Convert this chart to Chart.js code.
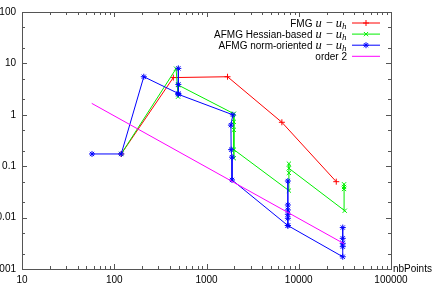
<!DOCTYPE html>
<html>
<head>
<meta charset="utf-8">
<script src="https://cdn.jsdelivr.net/npm/chart.js@4.4.1/dist/chart.umd.min.js"></script>
<style>
  html, body { margin: 0; padding: 0; background: #fff; }
  canvas { display: block; }
</style>
</head>
<body>
<canvas id="chart" width="434" height="294"></canvas>
<script>
// Error u - u_h versus number of points
const fmgPoints = [119, 437, 1690, 6560, 25500];
const fmgError = [0.173, 5.3, 5.5, 0.715, 0.050];

const hessPoints = [119, 468, 492, 492, 1980, 1980, 1980, 1980, 1980, 7820, 7820, 7820, 7820, 31500, 31000, 31000, 31000];
const hessError = [0.173, 7.9, 2.25, 3.8, 1.05, 0.73, 0.51, 0.143, 0.21, 0.0335, 0.074, 0.112, 0.091, 0.0136, 0.0445, 0.0395, 0.036];

const normPoints = [57.4, 119, 209, 495, 495, 495, 495, 1930, 1840, 1850, 1890, 1890, 7620, 7620, 7620, 7620, 7620, 7620, 7620, 30000, 30000, 30000, 30000, 30000];
const normError = [0.173, 0.173, 5.5, 2.6, 8.0, 3.9, 2.5, 1.0, 0.63, 0.21, 0.15, 0.054, 0.0070, 0.0515, 0.0176, 0.0141, 0.0116, 0.0097, 0.0070, 0.00173, 0.0064, 0.00395, 0.00316, 0.00272];

const orderPoints = [57, 31000];
const orderError = [1.67, 0.0031];

const seriesNames = ['FMG', 'AFMG Hessian-based', 'AFMG norm-oriented', 'order 2'];
const xTitle = 'nbPoints';

const xTicks = [10, 100, 1000, 10000, 100000];
const xTickLabels = ['10', '100', '1000', '10000', '100000'];
const yTicks = [0.001, 0.01, 0.1, 1, 10, 100];
const yTickLabels = ['0.001', '0.01', '0.1', '1', '10', '100'];
const xMinorSteps = [2, 3, 4, 5, 6, 7, 8, 9];
const yMinorSteps = [2, 5];

const SANS = '"Liberation Sans", Arial, sans-serif';
const SERIF = '"Liberation Serif", "Times New Roman", serif';

function toXY(xs, ys) {
    return xs.map((x, i) => ({ x: x, y: ys[i] }));
}

function makeSeries(i, xs, ys, color, style, order, withMath) {
    return {
        label: seriesNames[i],
        data: toXY(xs, ys),
        showLine: true,
        borderColor: color,
        backgroundColor: color,
        borderWidth: 1,
        tension: 0,
        pointStyle: style,
        pointRadius: style ? 3 : 0,
        pointBorderWidth: 1,
        pointBorderColor: color,
        order: order,
        withMath: withMath
    };
}

// frame + inward ticks on all four sides (gnuplot style)
const framePlugin = {
    id: 'frame',
    beforeDatasetsDraw(chart) {
        const ctx = chart.ctx;
        const a = chart.chartArea;
        const xs = chart.scales.x, ys = chart.scales.y;
        ctx.save();
        ctx.strokeStyle = '#555';
        ctx.lineWidth = 1;
        ctx.strokeRect(a.left + 0.5, a.top + 0.5, a.right - a.left, a.bottom - a.top);

        ctx.beginPath();
        const xt = (v, len) => {
            const px = Math.round(xs.getPixelForValue(v)) + 0.5;
            ctx.moveTo(px, a.bottom); ctx.lineTo(px, a.bottom - len);
            ctx.moveTo(px, a.top); ctx.lineTo(px, a.top + len);
        };
        const yt = (v, len) => {
            const py = Math.round(ys.getPixelForValue(v)) + 0.5;
            ctx.moveTo(a.left, py); ctx.lineTo(a.left + len, py);
            ctx.moveTo(a.right, py); ctx.lineTo(a.right - len, py);
        };
        xTicks.forEach((d, i) => {
            xt(d, 5);
            if (i < xTicks.length - 1) xMinorSteps.forEach(m => xt(d * m, 3));
        });
        yTicks.forEach((d, i) => {
            yt(d, 5);
            if (i < yTicks.length - 1) yMinorSteps.forEach(m => yt(d * m, 3));
        });
        ctx.stroke();

        ctx.fillStyle = '#000';
        ctx.font = '10px ' + SANS;
        ctx.textAlign = 'left';
        ctx.textBaseline = 'middle';
        ctx.fillText(xTitle, a.right + 2, a.bottom);
        ctx.restore();
    }
};

// draws "u − u_h" ending at xRight, returns its left edge
function drawMath(ctx, xRight, baseline) {
    const big = 'italic 12.5px ' + SERIF;
    const op = '12.5px ' + SERIF;
    const sub = 'italic 9px ' + SERIF;
    const parts = [
        { t: 'u', f: big, dy: 0, gap: 4 },
        { t: '\u2212', f: op, dy: 0, gap: 3 },
        { t: 'u', f: big, dy: 0, gap: 0 },
        { t: 'h', f: sub, dy: 2.5, gap: 0 }
    ];
    let total = 0;
    parts.forEach(p => { ctx.font = p.f; p.w = ctx.measureText(p.t).width; total += p.w + p.gap; });
    let x = xRight - total;
    const left = x;
    ctx.textAlign = 'left';
    parts.forEach(p => {
        ctx.font = p.f;
        ctx.fillText(p.t, x, baseline + p.dy);
        x += p.w + p.gap;
    });
    return left;
}

const legendPlugin = {
    id: 'plotKey',
    afterDraw(chart) {
        const ctx = chart.ctx;
        ctx.save();
        chart.data.datasets.forEach((ds, i) => {
            const rowY = 23 + i * 11.1;
            const base = rowY + 3.6;
            ctx.fillStyle = '#000';
            ctx.textBaseline = 'alphabetic';
            let textRight = 347;
            if (ds.withMath) {
                textRight = drawMath(ctx, 346.5, base) - 3;
            }
            ctx.font = '10px ' + SANS;
            ctx.textAlign = 'right';
            ctx.fillText(ds.label, textRight, base);

            ctx.strokeStyle = ds.borderColor;
            ctx.lineWidth = 1;
            ctx.beginPath();
            ctx.moveTo(352, rowY);
            ctx.lineTo(380, rowY);
            ctx.stroke();
            if (ds.pointStyle) {
                Chart.helpers.drawPoint(ctx, { pointStyle: ds.pointStyle, radius: 3, borderWidth: 1, rotation: 0 }, 366, rowY);
            }
        });
        ctx.restore();
    }
};

const tickFont = { family: SANS, size: 10 };

new Chart(document.getElementById('chart'), {
    type: 'scatter',
    data: {
        datasets: [
            makeSeries(0, fmgPoints, fmgError, '#ff0000', 'cross', 3, true),
            makeSeries(1, hessPoints, hessError, '#00ee00', 'crossRot', 2, true),
            makeSeries(2, normPoints, normError, '#0000ff', 'star', 1, true),
            makeSeries(3, orderPoints, orderError, '#ff00ff', false, 0, false)
        ]
    },
    options: {
        responsive: false,
        animation: false,
        devicePixelRatio: 1,
        layout: { padding: { top: 12, right: 43, left: 0, bottom: 0 } },
        plugins: {
            legend: { display: false },
            tooltip: { enabled: false }
        },
        scales: {
            x: {
                type: 'logarithmic',
                min: 10,
                max: 100000,
                grid: { display: false, drawTicks: false },
                border: { display: false },
                afterBuildTicks: s => { s.ticks = xTicks.map(v => ({ value: v })); },
                afterFit: s => { s.height = 25; },
                ticks: {
                    font: tickFont,
                    color: '#000',
                    padding: 5,
                    maxRotation: 0,
                    autoSkip: false,
                    callback: v => xTickLabels[xTicks.indexOf(v)]
                }
            },
            y: {
                type: 'logarithmic',
                min: 0.001,
                max: 100,
                grid: { display: false, drawTicks: false },
                border: { display: false },
                afterBuildTicks: s => { s.ticks = yTicks.map(v => ({ value: v })); },
                afterFit: s => { s.width = 22; },
                ticks: {
                    font: tickFont,
                    color: '#000',
                    padding: 6,
                    autoSkip: false,
                    callback: v => yTickLabels[yTicks.indexOf(v)]
                }
            }
        }
    },
    plugins: [framePlugin, legendPlugin]
});
</script>
</body>
</html>
